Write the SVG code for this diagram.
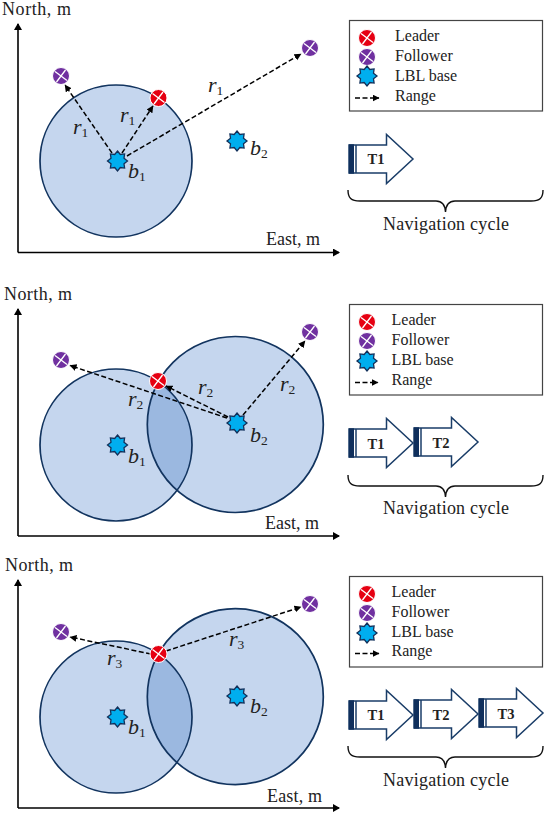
<svg xmlns="http://www.w3.org/2000/svg" width="550" height="815" viewBox="0 0 550 815">
<style>
text{font-family:"Liberation Serif","Times New Roman",serif;fill:#222}
.ax{font-size:18px}
.lg{font-size:16px}
.nav{font-size:18px}
.t{font-size:14.5px;font-weight:bold;text-anchor:middle}
.m{font-size:22px;font-style:italic}
.m tspan{font-size:13.5px;font-style:normal}
.fill{fill:#c5d6ee;stroke:none}
.lens{fill:#9bb8e0;stroke:none}
.ring{fill:none;stroke:#12345f;stroke-width:1.7}
.axis{fill:none;stroke:#000;stroke-width:1.6;marker-end:url(#axh)}
.rng{fill:none;stroke:#000;stroke-width:1.5;stroke-dasharray:5 2.5;marker-end:url(#rh)}
.box{fill:#fff;stroke:#444;stroke-width:1.2}
.ar{fill:#fff;stroke:#1a3d68;stroke-width:1.5}
.band{fill:#0f2f5c;stroke:none}
.brace{fill:none;stroke:#111;stroke-width:1.4}
</style>
<defs>
<marker id="axh" markerUnits="userSpaceOnUse" markerWidth="10" markerHeight="10" refX="6" refY="4" orient="auto"><path d="M0 0L7 4L0 8Z" fill="#000"/></marker>
<marker id="rh" markerUnits="userSpaceOnUse" markerWidth="9" markerHeight="9" refX="6.5" refY="3.5" orient="auto"><path d="M0 0L7 3.5L0 7Z" fill="#000"/></marker>
<g id="leader"><circle r="8.500" fill="#e60012" stroke="#fff" stroke-width="1"/><path d="M-6-4.500L6 4.500M-4.500 6L4.500-6" stroke="#fff" stroke-width="1.300"/></g>
<g id="follower"><circle r="8.500" fill="#7030a0" stroke="#fff" stroke-width="1"/><path d="M-6-4.500L6 4.500M-4.500 6L4.500-6" stroke="#fff" stroke-width="1.300"/></g>
<polygon id="base" points="0,-10 2.800,-6.500 7.100,-7.100 6.500,-2.800 10,0 6.500,2.800 7.100,7.100 2.800,6.500 0,10 -2.800,6.500 -7.100,7.100 -6.500,2.800 -10,0 -6.500,-2.800 -7.100,-7.100 -2.800,-6.500" fill="#00aeef" stroke="#12305a" stroke-width="1.300"/>
<g id="tarrow"><path class="ar" d="M0-14H37.500V-24.500L64 0L37.500 24.500V14H0Z"/><rect class="band" x="0" y="-14.700" width="5" height="29.400"/><path d="M7-14V14" stroke="#1a3d68" stroke-width="1.500"/></g>
<path id="brace" class="brace" d="M0 0C0 8 3 11 12 11H88C94 11 97 14 97.500 22C98 14 101 11 107 11H183C192 11 195 8 195 0"/>
<clipPath id="c2"><circle cx="116" cy="445" r="76"/></clipPath>
<clipPath id="c3"><circle cx="116" cy="717" r="76"/></clipPath>
</defs>

<g id="panel1-areas"><circle class="fill" cx="116" cy="161" r="76"/><circle class="ring" cx="116" cy="161" r="76"/></g>
<g id="panel2-areas"><circle class="fill" cx="116" cy="445" r="76"/><circle class="fill" cx="235.300" cy="424.500" r="88"/><circle class="lens" cx="235.300" cy="424.500" r="88" clip-path="url(#c2)"/><circle class="ring" cx="116" cy="445" r="76"/><circle class="ring" cx="235.300" cy="424.500" r="88"/></g>
<g id="panel3-areas"><circle class="fill" cx="116" cy="717" r="76"/><circle class="fill" cx="235.300" cy="696.700" r="88"/><circle class="lens" cx="235.300" cy="696.700" r="88" clip-path="url(#c3)"/><circle class="ring" cx="116" cy="717" r="76"/><circle class="ring" cx="235.300" cy="696.700" r="88"/></g>

<g id="connectors">
<path class="axis" d="M18 252.500V24"/><path class="axis" d="M18 252.500H339"/>
<path class="axis" d="M18 536V309"/><path class="axis" d="M18 536H339"/>
<path class="axis" d="M18 808V580"/><path class="axis" d="M18 808H339"/>
<path class="rng" d="M112 153L65 85"/><path class="rng" d="M122 153L153 106"/><path class="rng" d="M127 156L301 54"/>
<path class="rng" d="M227 418L70 365.500"/><path class="rng" d="M228 417L166 386"/><path class="rng" d="M243 415L305 341"/>
<path class="rng" d="M151 654L70 637"/><path class="rng" d="M166 651L301 607"/>
</g>

<g id="panel1-nodes">
<g id="p1-follower1"><use href="#follower" x="61" y="76"/></g>
<g id="p1-follower2"><use href="#follower" x="310" y="48"/></g>
<g id="p1-leader"><use href="#leader" x="158.500" y="98"/></g>
<g id="p1-b1"><use href="#base" x="117.500" y="161"/><text class="m" x="128" y="178">b<tspan dy="3">1</tspan></text></g>
<g id="p1-b2"><use href="#base" x="237" y="141"/><text class="m" x="250" y="155">b<tspan dy="3">2</tspan></text></g>
<text class="m" x="73" y="134">r<tspan dy="3">1</tspan></text>
<text class="m" x="120" y="122">r<tspan dy="3">1</tspan></text>
<text class="m" x="208" y="92">r<tspan dy="3">1</tspan></text>
<text class="ax" x="2" y="15" textLength="69">North, m</text>
<text class="ax" x="266" y="245" textLength="54">East, m</text>
</g>

<g id="panel2-nodes">
<g id="p2-follower1"><use href="#follower" x="61" y="360"/></g>
<g id="p2-follower2"><use href="#follower" x="310" y="332"/></g>
<g id="p2-leader"><use href="#leader" x="158" y="381"/></g>
<g id="p2-b1"><use href="#base" x="117.500" y="445"/><text class="m" x="128" y="463">b<tspan dy="3">1</tspan></text></g>
<g id="p2-b2"><use href="#base" x="237" y="423"/><text class="m" x="250" y="442">b<tspan dy="3">2</tspan></text></g>
<text class="m" x="128" y="406">r<tspan dy="3">2</tspan></text>
<text class="m" x="198" y="394">r<tspan dy="3">2</tspan></text>
<text class="m" x="280" y="391">r<tspan dy="3">2</tspan></text>
<text class="ax" x="4" y="300" textLength="68">North, m</text>
<text class="ax" x="265" y="529" textLength="54">East, m</text>
</g>

<g id="panel3-nodes">
<g id="p3-follower1"><use href="#follower" x="61" y="632"/></g>
<g id="p3-follower2"><use href="#follower" x="310" y="604"/></g>
<g id="p3-leader"><use href="#leader" x="158.500" y="654"/></g>
<g id="p3-b1"><use href="#base" x="117.500" y="717"/><text class="m" x="128" y="734">b<tspan dy="3">1</tspan></text></g>
<g id="p3-b2"><use href="#base" x="237" y="696"/><text class="m" x="250" y="713">b<tspan dy="3">2</tspan></text></g>
<text class="m" x="107" y="665">r<tspan dy="3">3</tspan></text>
<text class="m" x="229" y="646">r<tspan dy="3">3</tspan></text>
<text class="ax" x="5" y="571" textLength="68">North, m</text>
<text class="ax" x="267" y="802" textLength="55">East, m</text>
</g>

<g id="legend1">
<rect class="box" x="349.500" y="20.500" width="193" height="90.500"/>
<use href="#leader" x="367" y="38"/><use href="#follower" x="367" y="57"/><use href="#base" x="367" y="76"/>
<path class="rng" d="M355 98H379"/>
<text class="lg" x="395" y="41">Leader</text><text class="lg" x="395" y="61">Follower</text><text class="lg" x="395" y="81">LBL base</text><text class="lg" x="395" y="101">Range</text>
</g>
<g id="legend2">
<rect class="box" x="349.500" y="304.500" width="193" height="90.500"/>
<use href="#leader" x="367" y="322"/><use href="#follower" x="367" y="341"/><use href="#base" x="367" y="361"/>
<path class="rng" d="M355 382.500H378"/>
<text class="lg" x="391.500" y="325">Leader</text><text class="lg" x="391.500" y="345">Follower</text><text class="lg" x="391.500" y="365">LBL base</text><text class="lg" x="391.500" y="385">Range</text>
</g>
<g id="legend3">
<rect class="box" x="349.500" y="576.500" width="193" height="90.500"/>
<use href="#leader" x="367" y="594"/><use href="#follower" x="367" y="613"/><use href="#base" x="367" y="633"/>
<path class="rng" d="M355 653.500H379"/>
<text class="lg" x="391.500" y="597">Leader</text><text class="lg" x="391.500" y="617">Follower</text><text class="lg" x="391.500" y="637">LBL base</text><text class="lg" x="391.500" y="656">Range</text>
</g>

<g id="cycle1">
<g id="c1-t1"><use href="#tarrow" x="349" y="159"/><text class="t" x="376" y="164">T1</text></g>
<use href="#brace" x="348" y="190"/>
<text class="nav" x="383" y="230" textLength="126">Navigation cycle</text>
</g>
<g id="cycle2">
<g id="c2-t1"><use href="#tarrow" x="349" y="443"/><text class="t" x="376" y="449">T1</text></g>
<g id="c2-t2"><use href="#tarrow" x="414" y="442"/><text class="t" x="441" y="448">T2</text></g>
<use href="#brace" x="348" y="475"/>
<text class="nav" x="383" y="514" textLength="126">Navigation cycle</text>
</g>
<g id="cycle3">
<g id="c3-t1"><use href="#tarrow" x="349" y="715"/><text class="t" x="376" y="720">T1</text></g>
<g id="c3-t2"><use href="#tarrow" x="414" y="714"/><text class="t" x="441" y="720">T2</text></g>
<g id="c3-t3"><use href="#tarrow" x="479" y="713"/><text class="t" x="506" y="719">T3</text></g>
<use href="#brace" x="348" y="746"/>
<text class="nav" x="383" y="786" textLength="126">Navigation cycle</text>
</g>
</svg>
